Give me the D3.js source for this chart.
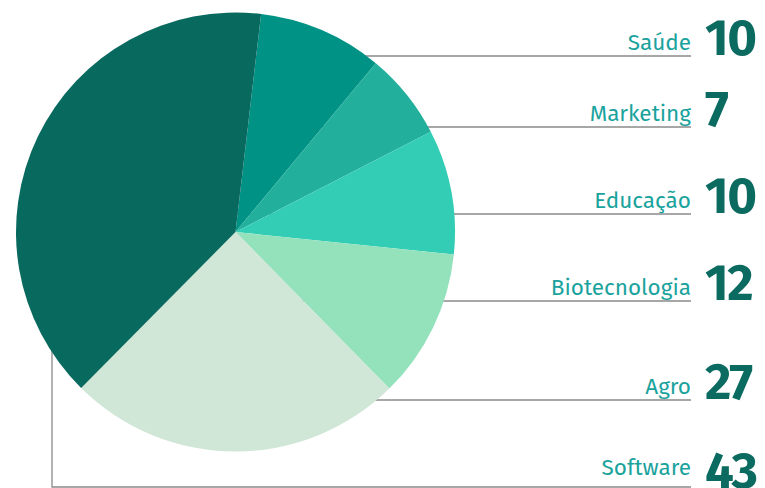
<!DOCTYPE html>
<html>
<head>
<meta charset="utf-8">
<script src="https://cdn.jsdelivr.net/npm/d3@7"></script>
<style>
  html, body { margin: 0; padding: 0; background: #fff; }
  svg { display: block; }
</style>
</head>
<body>
<svg id="chart" width="765" height="488"></svg>
<script>
// Setores e quantidades (ordem horária a partir do topo)
const sectors = ['Saúde', 'Marketing', 'Educação', 'Biotecnologia', 'Agro', 'Software'];
const counts = [10, 7, 10, 12, 27, 43];
const sectorColors = ['#009385', '#22b09c', '#33cdb5', '#93e2bc', '#d0e6d7', '#08695f'];

// Layout
const W = 765, H = 488;
const cx = 235.5, cy = 232, R = 219.5;
const startAngle = 0.117; // pie starts a bit right of 12 o'clock
const labelRight = 691;   // right end of leader lines / label anchor
const valueLeft = 705;
const rowY = [56, 127, 214, 301, 400, 487]; // leader line y per label row

const svg = d3.select('#chart');

const pie = d3.pie()
    .sort(null)
    .value(d => d)
    .startAngle(startAngle)
    .endAngle(startAngle + 2 * Math.PI);

const arcs = pie(counts);
const arc = d3.arc().innerRadius(0).outerRadius(R);

// Leader lines go first so the pie covers their inner ends
const lines = svg.append('g').attr('class', 'leaders')
    .attr('stroke', '#8a8a8a')
    .attr('stroke-width', 1.3)
    .attr('fill', 'none');

arcs.forEach((a, i) => {
    const y = rowY[i];
    if (sectors[i] === 'Software') {
        // Software wraps round the bottom-left of the pie
        lines.append('path')
            .attr('d', `M52,${cy + 100} V${y} H${labelRight}`);
    } else {
        lines.append('line')
            .attr('x1', cx).attr('x2', labelRight)
            .attr('y1', y).attr('y2', y);
    }
});

svg.append('g')
    .attr('transform', `translate(${cx},${cy})`)
    .selectAll('path')
    .data(arcs)
    .join('path')
    .attr('d', arc)
    .attr('fill', (d, i) => sectorColors[i]);

// Labels (last row sits on the bottom edge, so lift its name a bit)
const isLast = i => i === sectors.length - 1;
const labels = svg.append('g').attr('class', 'labels');

labels.selectAll('text.name')
    .data(sectors)
    .join('text')
    .attr('class', 'name')
    .attr('x', labelRight)
    .attr('y', (d, i) => rowY[i] - (isLast(i) ? 12 : 6))
    .attr('text-anchor', 'end')
    .attr('font-family', '"Fira Sans", "Open Sans", sans-serif')
    .attr('font-size', 22.5)
    .attr('fill', '#1aa39d')
    .text(d => d);

labels.selectAll('text.value')
    .data(counts)
    .join('text')
    .attr('class', 'value')
    .attr('x', valueLeft)
    .attr('y', (d, i) => rowY[i] - (isLast(i) ? -1 : 1))
    .attr('font-family', '"Fira Sans", "Open Sans", sans-serif')
    .attr('font-weight', 700)
    .attr('font-size', 51)
    .attr('letter-spacing', -1.5)
    .attr('fill', '#0b6b60')
    .text(d => d);
</script>
</body>
</html>
